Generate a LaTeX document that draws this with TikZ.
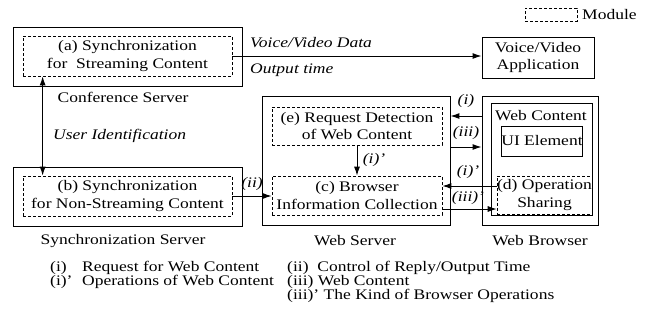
\documentclass[tikz,border=0pt]{standalone}
\usepackage{fontspec}
\setmainfont[FakeStretch=1.2]{Liberation Serif}
\usetikzlibrary{arrows.meta,calc}
\begin{document}
\begin{tikzpicture}[x=1pt,y=-1pt,
  every node/.style={font=\fontsize{14.6}{17.3}\selectfont, inner sep=0pt},
  box/.style={draw, line width=0.9pt, align=center},
  module/.style={draw, line width=0.7pt, dash pattern=on 3pt off 2pt, align=center},
  arr/.style={line width=1pt, -{Latex[length=9pt,width=6pt]}},
  lbl/.style={font=\fontsize{14.6}{17.3}\selectfont\itshape}]
\useasboundingbox (0,0) rectangle (650,335);

% servers and their modules
\node[box, minimum width=229pt, minimum height=59pt] (cs) at (127.5,56.5) {};
\node[module, minimum width=209pt, minimum height=40pt] (a) at (127.5,56) {(a) Synchronization\\for\ \ Streaming Content};
\node (csl) at (123,97) {Conference Server};

\node[box, minimum width=229pt, minimum height=59pt] (ss) at (127.5,196.5) {};
\node[module, minimum width=209pt, minimum height=40pt] (b) at (127.5,196) {(b) Synchronization\\for Non-Streaming Content};
\node (ssl) at (123,241) {Synchronization Server};

\node[box, minimum width=188pt, minimum height=129pt] (ws) at (356,160.5) {};
\node[module, minimum width=170pt, minimum height=38pt] (e) at (357,126) {(e) Request Detection\\of Web Content};
\node[module, minimum width=170pt, minimum height=39pt] (c) at (357,195.5) {(c) Browser\\Information Collection};
\node (wsl) at (355,241) {Web Server};

\node[box, minimum width=116pt, minimum height=129pt] (wb) at (540,160.5) {};
\node[box, minimum width=101pt, minimum height=112pt] (wc) at (541.5,159) {};
\node (wct) at (541,116) {Web Content};
\node[box, minimum width=80pt, minimum height=30pt] (ui) at (542,141) {UI Element};
\node[module, minimum width=85pt, minimum height=38pt] (d) at (544.5,195) {(d) Operation\\Sharing};
\node (wbl) at (540,241) {Web Browser};

\node[box, minimum width=112pt, minimum height=41pt] (va) at (538,57.5) {Voice/Video\\Application};

% legend for dashed modules
\node[module, minimum width=52pt, minimum height=13pt] (lm) at (551,14.5) {};
\node[anchor=west] (lmt) at (582,14.5) {Module};

% connectors
\draw[arr] (a.east) -- (a.east -| va.west);
\node[lbl, anchor=west] (vvd) at (250,43) {Voice/Video Data};
\node[lbl, anchor=west] (ot) at (250,70) {Output time};

\draw[arr, {Latex[length=9pt,width=6pt]}-{Latex[length=9pt,width=6pt]}] ($(a.south west)+(20,0)$) -- ($(b.north west)+(20,0)$);
\node[lbl, anchor=west] (uid) at (53,136) {User Identification};

\draw[arr] (b.east) -- (b.east -| c.west);
\node[lbl] (lii) at (252,184) {(ii)};

\draw[arr] (e.south) -- (c.north);
\node[lbl] (lip) at (374,160) {(i)’};

\draw[arr] (wb.west |- 0,116) -- (ws.east |- 0,116);
\node[lbl] (li) at (466,101) {(i)};
\draw[arr] (ws.east |- 0,147) -- (wb.west |- 0,147);
\node[lbl] (liii) at (466,133) {(iii)};
\draw[arr] (d.west |- 0,186) -- (c.east |- 0,186);
\node[lbl] (lip2) at (468,172) {(i)’};
\draw[arr] (c.east |- 0,209) -- (d.west |- 0,209);
\node[lbl] (liiip) at (468,198) {(iii)’};

% key to the connector labels
\node[anchor=west] (k1a) at (50,268) {(i)};
\node[anchor=west] (k1b) at (82,268) {Request for Web Content};
\node[anchor=west] (k2a) at (50,282) {(i)’};
\node[anchor=west] (k2b) at (82,282) {Operations of Web Content};
\node[anchor=west] (k3) at (287,268) {(ii)\ \ Control of Reply/Output Time};
\node[anchor=west] (k4) at (287,282) {(iii) Web Content};
\node[anchor=west] (k5) at (287,296) {(iii)’\ The Kind of Browser Operations};
\end{tikzpicture}
\end{document}
